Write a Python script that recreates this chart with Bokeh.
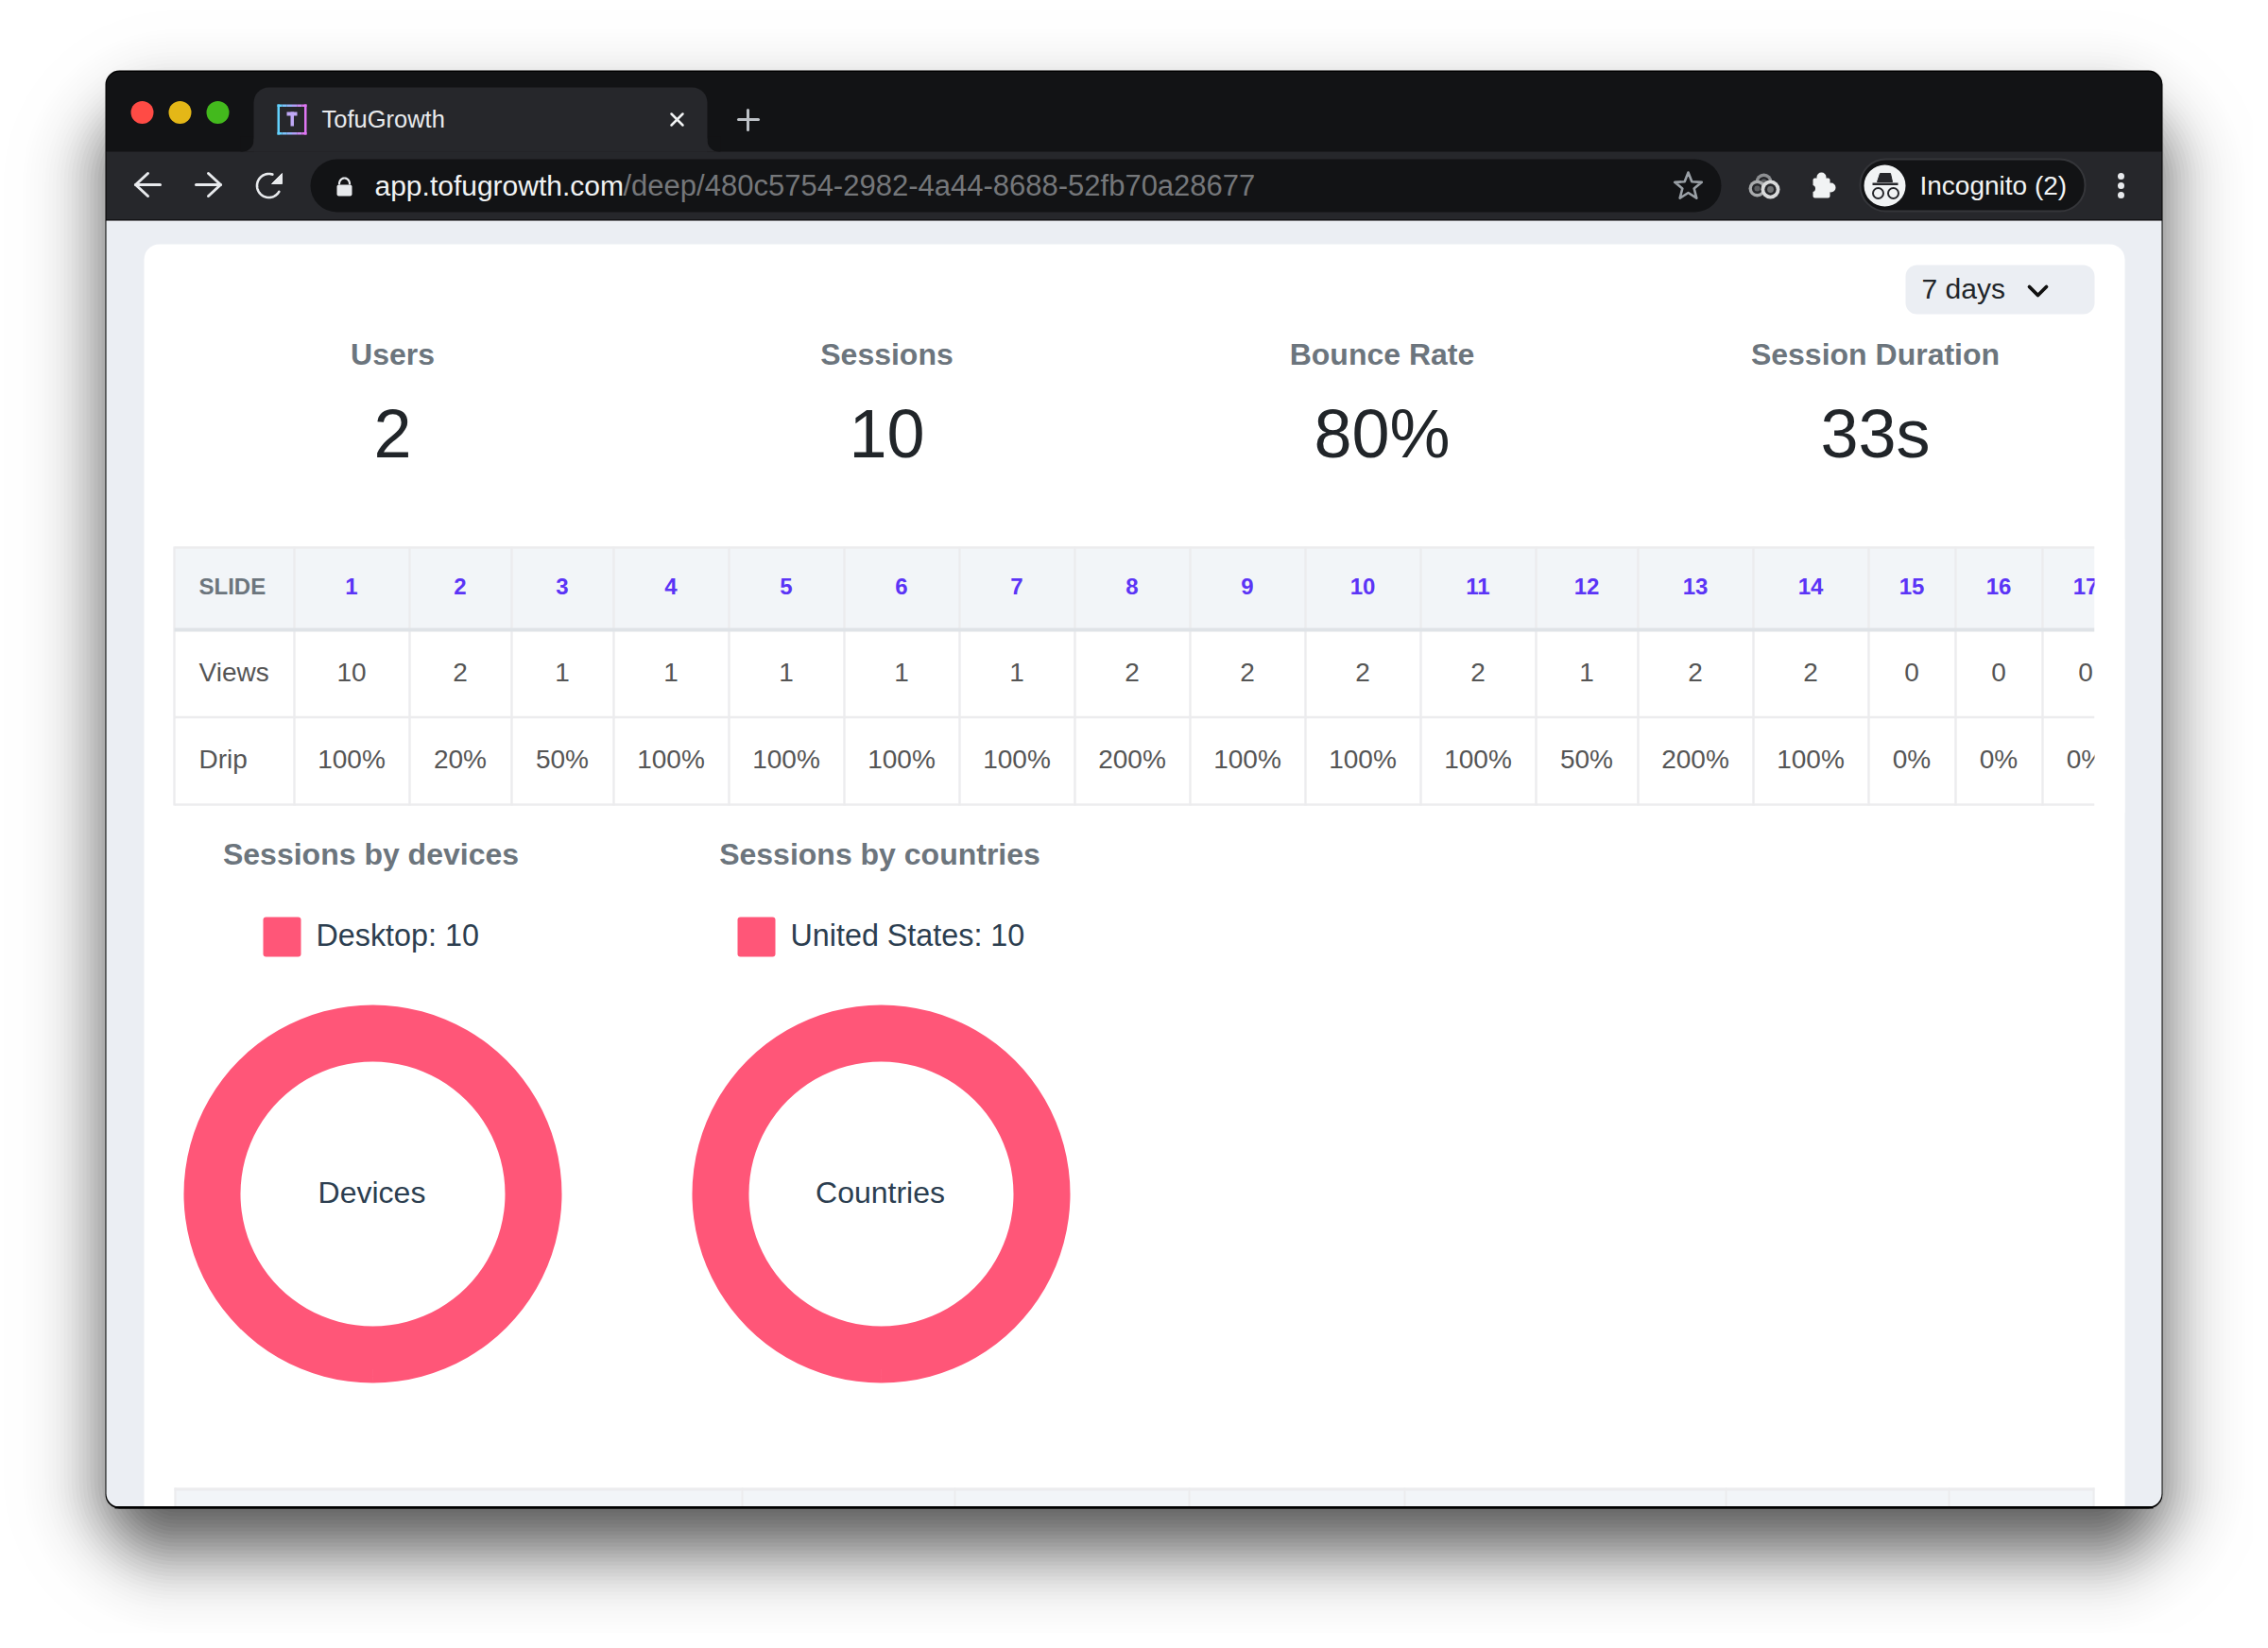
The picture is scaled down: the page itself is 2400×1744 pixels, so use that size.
import math
import numpy as np
from bokeh.core.properties import value
from bokeh.plotting import figure
from bokeh.models import Range1d
from bokeh.embed import file_html
from bokeh.resources import INLINE

# ---------- content ----------
tab_title = "TofuGrowth"
url_host = "app.tofugrowth.com"
url_path = "/deep/480c5754-2982-4a44-8688-52fb70a28677"
profile_label = "Incognito (2)"
range_label = "7 days"

stat_labels = ["Users", "Sessions", "Bounce Rate", "Session Duration"]
stat_values = ["2", "10", "80%", "33s"]

row_header = "SLIDE"
row_names = ["Views", "Drip"]
slides = ["1", "2", "3", "4", "5", "6", "7", "8", "9", "10", "11", "12", "13", "14", "15", "16", "17"]
views = [10, 2, 1, 1, 1, 1, 1, 2, 2, 2, 2, 1, 2, 2, 0, 0, 0]
drip = [100, 20, 50, 100, 100, 100, 100, 200, 100, 100, 100, 50, 200, 100, 0, 0, 0]

donut_titles = ["Sessions by devices", "Sessions by countries"]
donut_centers = ["Devices", "Countries"]
donut_categories = ["Desktop", "United States"]
donut_values = [10, 10]

# ---------- layout ----------
FONT = "Liberation Sans"
W, H = 2400, 1744
col_edges = [184, 311, 433, 541, 649, 771, 893, 1015, 1137, 1259, 1381, 1503, 1625, 1733, 1855, 1977, 2069, 2161, 2253]
lower_edges = [185, 785, 1010, 1258, 1486, 1826, 2062, 2215]
stat_x = [415, 938, 1462, 1984]

p = figure(width=W - 16, height=H - 16, x_range=Range1d(0, W - 16), y_range=Range1d(H - 16, 0),
           output_backend="svg", toolbar_location=None, min_border=0)
p.axis.visible = False
p.grid.visible = False
p.outline_line_color = None
p.background_fill_color = "#ffffff"
p.border_fill_color = "#ffffff"


def box(l, t, r, b, color, radius=0, alpha=1.0):
    p.quad(left=[l], right=[r], top=[t], bottom=[b], fill_color=color, fill_alpha=alpha,
           line_color=None, border_radius=radius)


def label(x, y, s, size, color, weight="normal", align="center"):
    p.text(x=[x], y=[y], text=[s], text_font=value(FONT), text_font_size=f"{size}px", text_color=color,
           text_font_style=weight, text_align=align, text_baseline="middle")


def stroke(xs, ys, color, width=3.0):
    p.line(x=list(xs), y=list(ys), line_color=color, line_width=width, line_cap="round", line_join="round")


def dot(x, y, r, color):
    p.circle(x=[x], y=[y], radius=r, fill_color=color, line_color=None)


# ---------- window shadow ----------
WL, WT, WR, WB = 111, 74, 2288, 1596
SIGMA, STRENGTH, DROP = 40, 0.66, 44
prev = 0.0
for d in range(108, -108, -4):
    z = d / SIGMA
    target = STRENGTH * 0.5 * math.erfc(z / math.sqrt(2))
    a = 1 - (1 - target) / (1 - prev)
    prev = target
    box(WL - d, WT + DROP - d, WR + d, WB + DROP + d, "#000000", radius=max(14, 75 + d), alpha=a)

# ---------- window chrome ----------
DARK, TOOL, ICON = "#121315", "#26272b", "#e8eaed"
box(WL, WT, WR, WB, "#000000", radius=15)
box(WL + 1, WT + 1.5, WR - 1, 161, DARK, radius=(14, 14, 0, 0))
box(WL + 1, 160, WR - 1, 232, TOOL)
box(WL + 1, 233, WR - 1, WB - 2, "#ebeef3", radius=(0, 0, 14, 14))

for x, c in zip([150, 190, 230], ["#ff4b45", "#e4b717", "#43b91d"]):
    dot(x, 118.5, 12, c)

# tab
box(256, 146, 760, 160, TOOL)
box(254, 144, 268, 160, DARK, radius=(0, 0, 12, 0))
box(748, 144, 762, 160, DARK, radius=(0, 0, 0, 12))
box(268, 92, 748, 160, TOOL, radius=(16, 16, 0, 0))

# favicon
grad = ["#62d2fe", "#7cc3fb", "#96b2f8", "#b09ff6", "#c98df4", "#de76f2"]
fx = np.linspace(293, 324, len(grad) + 1)
for i, c in enumerate(grad):
    box(fx[i], 110, fx[i + 1], 112.5, c)
    box(fx[i], 139.5, fx[i + 1], 142, c)
box(293, 110, 295.5, 142, grad[0])
box(321.5, 110, 324, 142, grad[-1])
box(303, 118, 314, 122, "#bfa8f5")
box(307, 118, 310.5, 133, "#bfa8f5")

label(340, 125, tab_title, 25.5, "#e8eaed", align="left")
stroke([710, 722], [120, 132], "#f1f3f4", 2.5)
stroke([722, 710], [120, 132], "#f1f3f4", 2.5)
stroke([791, 791], [116, 137], "#bdc1c6", 3)
stroke([781, 802], [126, 126], "#bdc1c6", 3)

# navigation icons
stroke([169, 143], [195, 195], ICON)
stroke([156, 143, 156], [183, 195, 207], ICON)
stroke([207, 233], [195, 195], ICON)
stroke([220, 233, 220], [183, 195, 207], ICON)
th = np.radians(np.linspace(120, 378, 60))
stroke(284 + 12.5 * np.sin(th), 196 - 12.5 * np.cos(th), ICON, 2.6)
p.patch(x=[287, 298, 298], y=[194, 194, 183], fill_color=ICON, line_color=ICON, line_width=1)

# address bar
box(328, 168, 1821, 224, DARK, radius=28)
box(356, 195, 372, 207, ICON, radius=2)
tl = np.radians(np.linspace(180, 360, 24))
stroke(364 + 5.5 * np.cos(tl), 194 + 6 * np.sin(tl), ICON, 2.2)
label(396, 196, url_host, 30, "#f1f3f4", align="left")
label(659, 196, url_path, 31, "#75777a", align="left")

# star
ang = np.radians(np.arange(0, 360, 36) - 90)
rad = np.where(np.arange(10) % 2 == 0, 15, 6.5)
sx = 1786 + rad * np.cos(ang)
sy = 197 + rad * np.sin(ang)
stroke(np.r_[sx, sx[0]], np.r_[sy, sy[0]], "#9aa0a6", 2.6)

# extension icons
for x, y, r, outer, inner in [(1866, 192, 9, "#8d8f92", "#5d5f62"), (1859, 199, 9, "#a8aaac", "#5d5f62"),
                              (1873, 200, 10, "#d9dadb", "#707274")]:
    dot(x, y, r, outer)
    dot(x, y, r * 0.62, TOOL)
    dot(x, y, r * 0.34, inner)
box(1918, 188, 1936, 209, "#f1f3f4", radius=2)
dot(1927, 187, 5, "#f1f3f4")
dot(1937, 198, 5, "#f1f3f4")
dot(1917, 199, 3.5, TOOL)

# profile pill
p.quad(left=[1968], right=[2206], top=[168], bottom=[223], fill_color=DARK, line_color="#35363a",
       line_width=2, border_radius=27)
dot(1994, 196, 22, "#f1f3f4")
p.patch(x=[1989, 2000, 2002, 1986], y=[183, 183, 192, 192], fill_color=TOOL, line_color=TOOL, line_width=1)
box(1981, 193, 2008, 195.5, TOOL)
for gx in [1987, 2003]:
    p.circle(x=[gx], y=[204], radius=5.5, fill_color=None, line_color=TOOL, line_width=2)
label(2031, 196, profile_label, 28, "#f1f3f4", align="left")
for my in [186, 196, 206]:
    dot(2244, my, 3.5, ICON)

# ---------- card ----------
box(152, 258, 2248, WB - 2, "#ffffff", radius=(16, 16, 0, 0))
box(2016, 280, 2216, 332, "#ebeef3", radius=12)
label(2033, 305, range_label, 30, "#212529", align="left")
stroke([2147, 2156, 2165], [303, 312, 303], "#111111", 3.8)

for x, name, val in zip(stat_x, stat_labels, stat_values):
    label(x, 374, name, 32, "#6c757d", "bold")
    label(x, 458, val, 72, "#212529")

# ---------- table ----------
GRID = "#ececee"
box(184, 578, 2216, 665, "#f2f5f8")
for v in col_edges[:-1]:
    box(v - 1.2, 578, v + 1.2, 852, GRID)
for y in [579, 758.5, 851]:
    box(184, y - 1.2, 2216, y + 1.2, GRID)
box(184, 664, 2216, 668, "#dfe3e7")

label(210, 620, row_header, 24, "#6c757d", "bold", "left")
label(210, 711, row_names[0], 28, "#555555", align="left")
label(210, 803, row_names[1], 28, "#555555", align="left")
centers = [(a + b) / 2 for a, b in zip(col_edges[1:-1], col_edges[2:])]
for x, s, v, d in zip(centers, slides, views, drip):
    label(x - 0.5, 620, s, 24, "#5b34f6", "bold")
    label(x - 0.5, 711, str(v), 28, "#555555")
    label(x - 0.5, 803, f"{d}%", 28, "#555555")
# the table scrolls inside the card: hide what overflows its right edge
box(2216, 570, 2248, 860, "#ffffff")

# ---------- donuts ----------
PINK = "#ff5678"
donut_xy = [394, 932]
title_x = [392, 930.5]
swatch_x = [278, 780]
for cx, tx, sw, title, center, cat, val in zip(donut_xy, title_x, swatch_x, donut_titles, donut_centers,
                                               donut_categories, donut_values):
    label(tx, 903, title, 32, "#6c757d", "bold")
    box(sw, 970, sw + 40, 1012, PINK, radius=3)
    label(sw + 56, 989, f"{cat}: {val}", 32.3, "#2c3e50", align="left")
    p.annular_wedge(x=[cx], y=[1263], inner_radius=140, outer_radius=200, start_angle=-math.pi / 2,
                    end_angle=-math.pi / 2 + 2 * math.pi * val / sum([val]) * 0.99999,
                    fill_color=PINK, line_color=None)
    label(cx - 1, 1261, center, 32, "#2c3e50")

# ---------- second table, cut by the window ----------
box(184, 1574, 2216, WB - 2, "#f2f5f8")
box(184, 1574, 2216, 1577, GRID)
for v in lower_edges:
    box(v - 1, 1574, v + 1, WB - 2, GRID)
box(WL + 10, WB - 2.5, WR - 10, WB, "#000000")

open("out.html", "w").write(file_html(p, INLINE))
